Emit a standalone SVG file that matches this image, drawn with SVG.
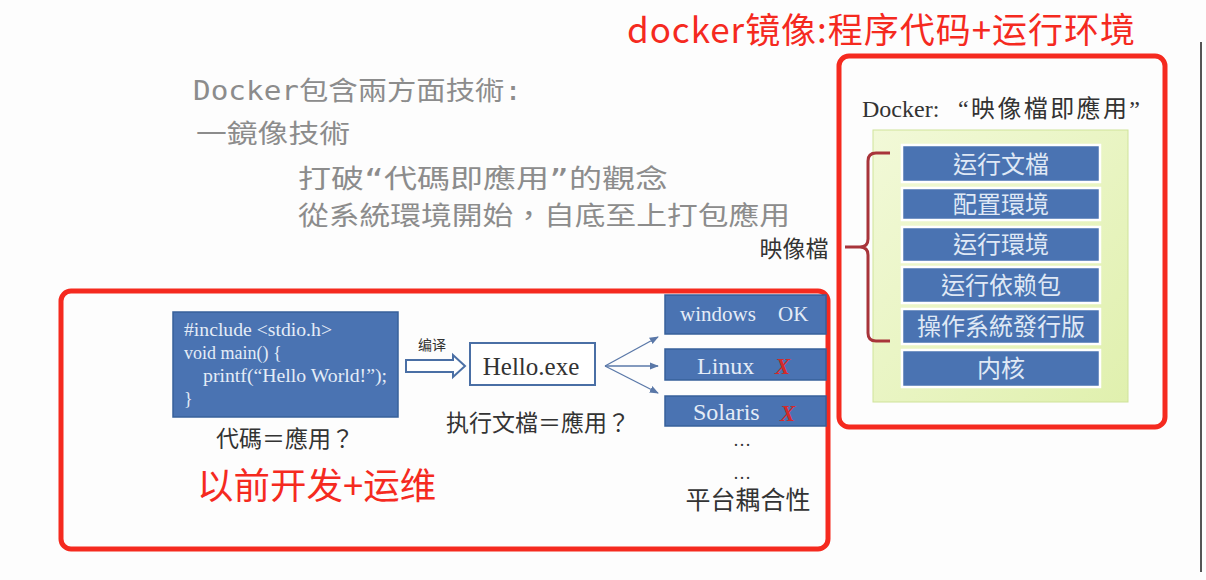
<svg xmlns="http://www.w3.org/2000/svg" width="1206" height="580" viewBox="0 0 1206 580">
<defs>
<style>
.red{fill:none;stroke:#f52a1f;stroke-width:5}
.redt{fill:#f52a1f;font-family:"Noto Sans CJK SC","Liberation Sans",sans-serif}
.gray{fill:#8c8c8c;font-family:"DejaVu Sans Mono","Noto Sans CJK TC",monospace;font-size:26px}
.blue{fill:#4a73b2;stroke:#37609a;stroke-width:1.5}
.layer{fill:#4a73b2;stroke:#ffffff;stroke-width:2.5}
.wt{fill:#e4ecf7;font-family:"Liberation Serif","Noto Sans CJK TC",serif}
.lt{fill:#dfe8f5;font-family:"Noto Sans CJK TC",sans-serif;font-size:24px;text-anchor:middle}
.dk{fill:#333;font-family:"Liberation Serif","Noto Sans CJK TC",serif}
.x{fill:#d42a2a;font-family:"Liberation Serif",serif;font-size:23px;font-weight:bold;font-style:italic}
.conn{fill:none;stroke:#5a78a8;stroke-width:1.3}
</style>
<marker id="ah" viewBox="0 0 10 10" refX="9" refY="5" markerWidth="7" markerHeight="7" orient="auto">
<path d="M0,1 L10,5 L0,9 z" fill="#5a78a8"/>
</marker>
<linearGradient id="gr" x1="0" y1="0" x2="1" y2="1">
<stop offset="0" stop-color="#f2f9d8"/>
<stop offset="1" stop-color="#e0f0ae"/>
</linearGradient>
</defs>
<rect width="1206" height="580" fill="#fdfdfd"/>
<line x1="1201" y1="42" x2="1201" y2="572" stroke="#555" stroke-width="2"/>

<g id="title-red">
<text class="redt" x="627" y="43" font-size="35" textLength="508" lengthAdjust="spacing">docker镜像:程序代码+运行环境</text>
</g>

<g id="intro-text">
<text class="gray" x="193" y="100" textLength="329" lengthAdjust="spacingAndGlyphs">Docker包含兩方面技術:</text>
<text class="gray" x="196" y="143" textLength="154" lengthAdjust="spacingAndGlyphs">一鏡像技術</text>
<text class="gray" x="298" y="188" textLength="370" lengthAdjust="spacingAndGlyphs">打破“代碼即應用”的觀念</text>
<text class="gray" x="298" y="225" textLength="492" lengthAdjust="spacingAndGlyphs">從系統環境開始，自底至上打包應用</text>
</g>

<g id="frame-old">
<rect class="red" x="61" y="291" width="767" height="258" rx="10"/>
</g>

<g id="code-box">
<rect class="blue" x="173" y="312" width="225" height="105"/>
<text class="wt" font-size="18" x="184" y="336" textLength="148" lengthAdjust="spacingAndGlyphs">#include &lt;stdio.h&gt;</text>
<text class="wt" font-size="18" x="184" y="359">void main() {</text>
<text class="wt" font-size="18" x="203" y="382" textLength="184" lengthAdjust="spacingAndGlyphs">printf(“Hello World!”);</text>
<text class="wt" font-size="18" x="184" y="405">}</text>
<text class="dk" font-size="23" x="285" y="447" text-anchor="middle">代碼＝應用？</text>
</g>

<g id="compile-arrow">
<path d="M406,360 L453,360 L453,355 L465,366 L453,377 L453,372 L406,372 z" fill="#fff" stroke="#4a6fa5" stroke-width="2"/>
<text class="dk" font-size="14" x="432" y="350" text-anchor="middle">编译</text>
</g>

<g id="hello-exe">
<rect x="470" y="343" width="125" height="42" fill="#fff" stroke="#4a6fa5" stroke-width="2"/>
<text class="dk" font-size="25" x="531" y="375" text-anchor="middle" fill="#222">Hello.exe</text>
<text class="dk" font-size="23" x="538" y="431" text-anchor="middle">执行文檔＝應用？</text>
</g>

<g id="connectors">
<line class="conn" x1="605" y1="366" x2="658" y2="337" marker-end="url(#ah)"/>
<line class="conn" x1="605" y1="366" x2="658" y2="366" marker-end="url(#ah)"/>
<line class="conn" x1="605" y1="366" x2="658" y2="393" marker-end="url(#ah)"/>
</g>

<g id="windows">
<rect class="blue" x="665" y="295" width="161" height="39"/>
<text class="wt" font-size="21" x="680" y="321">windows</text>
<text class="wt" font-size="21" x="778" y="321">OK</text>
</g>
<g id="linux">
<rect class="blue" x="665" y="349" width="161" height="31"/>
<text class="wt" font-size="24" x="697" y="374">Linux</text>
<text class="x" x="775" y="374">X</text>
</g>
<g id="solaris">
<rect class="blue" x="665" y="396" width="161" height="30"/>
<text class="wt" font-size="24" x="693" y="420">Solaris</text>
<text class="x" x="780" y="421">X</text>
</g>
<g id="platform-more">
<text class="dk" font-size="18" x="742" y="446" text-anchor="middle">…</text>
<text class="dk" font-size="18" x="742" y="479" text-anchor="middle">…</text>
<text class="dk" font-size="25" x="748" y="509" text-anchor="middle">平台耦合性</text>
</g>

<g id="old-label">
<text class="redt" x="197" y="499" font-size="36.5">以前开发+运维</text>
</g>

<g id="frame-docker">
<rect class="red" x="839" y="56" width="326" height="371" rx="10"/>
</g>

<g id="docker-title">
<text class="dk" font-size="24" x="862" y="117" fill="#222">Docker:</text>
<text class="dk" font-size="24" x="958" y="117" fill="#222" textLength="182" lengthAdjust="spacing">“映像檔即應用”</text>
</g>

<g id="image-stack">
<rect x="873" y="130" width="255" height="272" fill="url(#gr)" stroke="#cfe39a" stroke-width="1"/>
<rect class="layer" x="902" y="145" width="198" height="37"/>
<text class="lt" x="1001" y="173">运行文檔</text>
<rect class="layer" x="902" y="188" width="198" height="32"/>
<text class="lt" x="1001" y="213">配置環境</text>
<rect class="layer" x="902" y="227" width="198" height="35"/>
<text class="lt" x="1001" y="253">运行環境</text>
<rect class="layer" x="902" y="267" width="198" height="36"/>
<text class="lt" x="1001" y="294">运行依赖包</text>
<rect class="layer" x="902" y="309" width="198" height="35"/>
<text class="lt" x="1001" y="335">操作系統發行版</text>
<rect class="layer" x="902" y="350" width="198" height="37"/>
<text class="lt" x="1001" y="377">内核</text>
</g>

<g id="bracket">
<path d="M890,153 L876,153 Q868,153 868,161 L868,239 Q868,247 860,247 L845,247 M860,247 Q868,247 868,255 L868,333 Q868,341 876,341 L890,341" fill="none" stroke="#a8343a" stroke-width="3"/>
<text class="dk" font-size="23" x="794" y="257" text-anchor="middle">映像檔</text>
</g>
</svg>
